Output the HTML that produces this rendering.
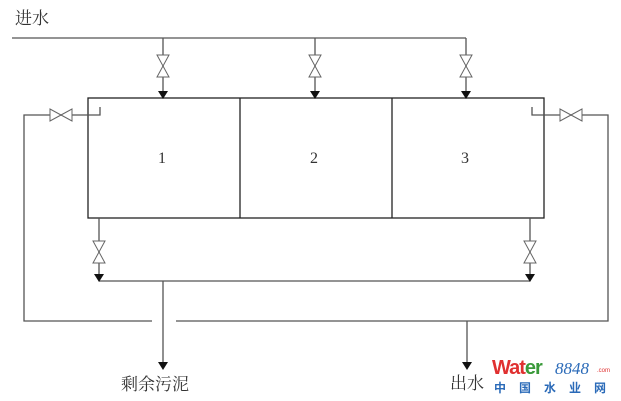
<!DOCTYPE html>
<html><head><meta charset="utf-8"><style>
body{margin:0;background:#fff;width:621px;height:401px;overflow:hidden}
svg{position:absolute;left:0;top:0}
.t{font-family:"Liberation Serif","Noto Serif CJK SC",serif;fill:#333}
</style></head><body>
<svg width="621" height="401" viewBox="0 0 621 401">
<defs>
<g id="vv"><polygon points="-6,-11 6,-11 0,0 6,11 -6,11 0,0" fill="#fff" stroke="#666" stroke-width="1"/></g>
<g id="vh"><polygon points="-11,-6 -11,6 0,0 11,6 11,-6 0,0" fill="#fff" stroke="#666" stroke-width="1"/></g>
</defs>
<g stroke="#555" stroke-width="1.3" fill="none">
<line x1="12" y1="38" x2="466" y2="38"/>
<line x1="163" y1="38" x2="163" y2="92"/>
<line x1="315" y1="38" x2="315" y2="92"/>
<line x1="466" y1="38" x2="466" y2="92"/>
<rect x="88" y="98" width="456" height="120" stroke="#222"/>
<line x1="240" y1="98" x2="240" y2="218" stroke="#222"/>
<line x1="392" y1="98" x2="392" y2="218" stroke="#222"/>
<polyline points="100,107 100,115 24,115 24,321 152,321"/>
<polyline points="532,107 532,115 608,115 608,321 176,321"/>
<line x1="99" y1="218" x2="99" y2="275"/>
<line x1="530" y1="218" x2="530" y2="275"/>
<line x1="99" y1="281" x2="530" y2="281"/>
<line x1="163" y1="281" x2="163" y2="363"/>
<line x1="467" y1="321" x2="467" y2="362"/>
</g>
<use href="#vv" x="163" y="66"/><use href="#vv" x="315" y="66"/><use href="#vv" x="466" y="66"/>
<use href="#vv" x="99" y="252"/><use href="#vv" x="530" y="252"/>
<use href="#vh" x="61" y="115"/><use href="#vh" x="571" y="115"/>
<g fill="#111">
<polygon points="158,91 168,91 163,99"/><polygon points="310,91 320,91 315,99"/><polygon points="461,91 471,91 466,99"/>
<polygon points="94,274 104,274 99,282"/><polygon points="525,274 535,274 530,282"/>
<polygon points="158,362 168,362 163,370"/><polygon points="462,362 472,362 467,370"/>
</g>
<text class="t" x="15" y="24" font-size="17">进水</text>
<text class="t" x="158" y="163" font-size="16">1</text>
<text class="t" x="310" y="163" font-size="16">2</text>
<text class="t" x="461" y="163" font-size="16">3</text>
<text class="t" x="121" y="390" font-size="17">剩余污泥</text>
<text class="t" x="450" y="389" font-size="17">出水</text>
<text x="492" y="374" font-family="Liberation Sans,sans-serif" font-weight="bold" font-size="20" fill="#e03030" letter-spacing="-1">Wat<tspan fill="#3a9a3a">er</tspan></text>
<text x="555" y="374" font-family="Liberation Serif,serif" font-style="italic" font-size="17" fill="#2a6ab8">8848</text>
<text x="597" y="372" font-family="Liberation Sans,sans-serif" font-size="6" fill="#e03030">.com</text>
<text x="494" y="392" font-family="Noto Sans CJK SC,sans-serif" font-weight="bold" font-size="12" fill="#2a6ab8" letter-spacing="13">中国水业网</text>
</svg>
</body></html>
